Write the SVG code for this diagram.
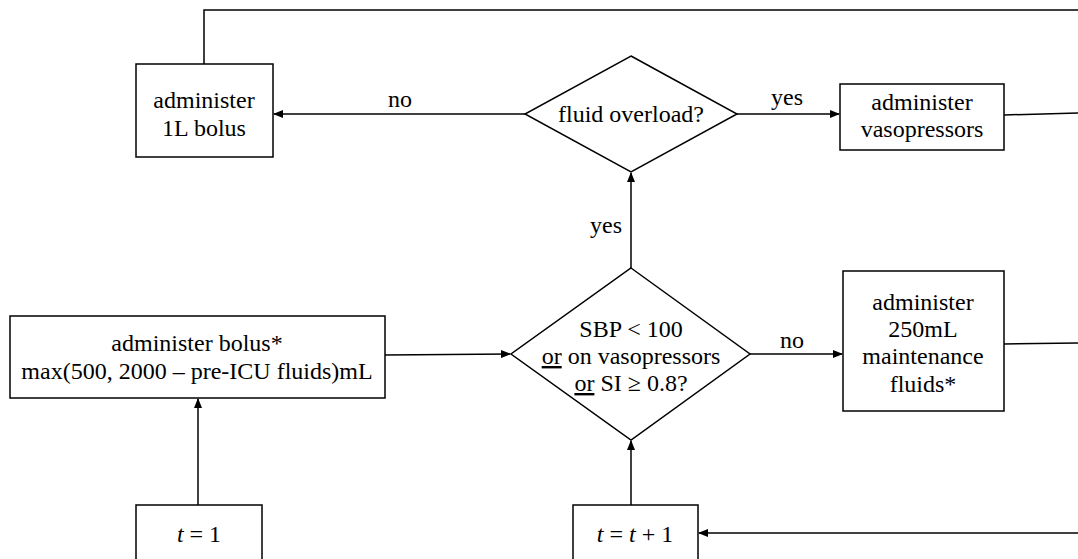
<svg xmlns="http://www.w3.org/2000/svg" width="1078" height="559" viewBox="0 0 1078 559">
<style>
.box{fill:#fff;stroke:#000;stroke-width:1.5}
.ln{fill:none;stroke:#000;stroke-width:1.5}
text{font-family:"Liberation Serif","DejaVu Serif",serif;font-size:24px;fill:#000;text-anchor:middle}
.it{font-style:italic}
.u{text-decoration:underline}
</style>
<defs>
<marker id="ah" markerWidth="10" markerHeight="8" refX="9" refY="4" orient="auto" markerUnits="userSpaceOnUse">
<path d="M0,0 L10,4 L0,8 Z" fill="#000"/>
</marker>
</defs>
<rect width="1078" height="559" fill="#fff"/>
<g id="connectors">
<path class="ln" d="M204,64 V10 H1078"/>
<path class="ln" d="M525,114 H274" marker-end="url(#ah)"/>
<path class="ln" d="M737,114 H839" marker-end="url(#ah)"/>
<path class="ln" d="M1004,115 L1078,113"/>
<path class="ln" d="M631,268 V173" marker-end="url(#ah)"/>
<path class="ln" d="M385,355 L510,354" marker-end="url(#ah)"/>
<path class="ln" d="M750,354 H842" marker-end="url(#ah)"/>
<path class="ln" d="M1004,344 L1078,343"/>
<path class="ln" d="M198,505 V399" marker-end="url(#ah)"/>
<path class="ln" d="M631,505 V441" marker-end="url(#ah)"/>
<path class="ln" d="M1078,533 H699" marker-end="url(#ah)"/>
<text x="400" y="107">no</text>
<text x="787" y="105">yes</text>
<text x="606" y="233">yes</text>
<text x="792" y="348">no</text>
</g>
<g id="bolus1L">
<rect class="box" x="136" y="64" width="137" height="93"/>
<text x="204" y="108">administer</text>
<text x="204" y="136">1L bolus</text>
</g>
<g id="fluidOverload">
<polygon class="box" points="631,56 737,114 631,172 525,114"/>
<text x="631" y="122">fluid overload?</text>
</g>
<g id="vasopressors">
<rect class="box" x="840" y="84" width="164" height="66"/>
<text x="922" y="110">administer</text>
<text x="922" y="137">vasopressors</text>
</g>
<g id="bolusInit">
<rect class="box" x="10" y="316" width="375" height="82"/>
<text x="197" y="351">administer bolus*</text>
<text x="197" y="379">max(500, 2000 – pre-ICU fluids)mL</text>
</g>
<g id="sbpCheck">
<polygon class="box" points="631,268 750,354 631,440 511,354"/>
<text x="631" y="337">SBP &lt; 100</text>
<text x="631" y="364"><tspan class="u">or</tspan> on vasopressors</text>
<text x="631" y="391"><tspan class="u">or</tspan> SI ≥ 0.8?</text>
</g>
<g id="maintenance">
<rect class="box" x="843" y="271" width="161" height="140"/>
<text x="923" y="310">administer</text>
<text x="923" y="337">250mL</text>
<text x="923" y="364">maintenance</text>
<text x="923" y="392">fluids*</text>
</g>
<g id="tInit">
<rect class="box" x="136" y="505" width="126" height="60"/>
<text x="199" y="542"><tspan class="it">t</tspan> = 1</text>
</g>
<g id="tIncr">
<rect class="box" x="573" y="505" width="125" height="60"/>
<text x="635" y="542"><tspan class="it">t</tspan> = <tspan class="it">t</tspan> + 1</text>
</g>
</svg>
